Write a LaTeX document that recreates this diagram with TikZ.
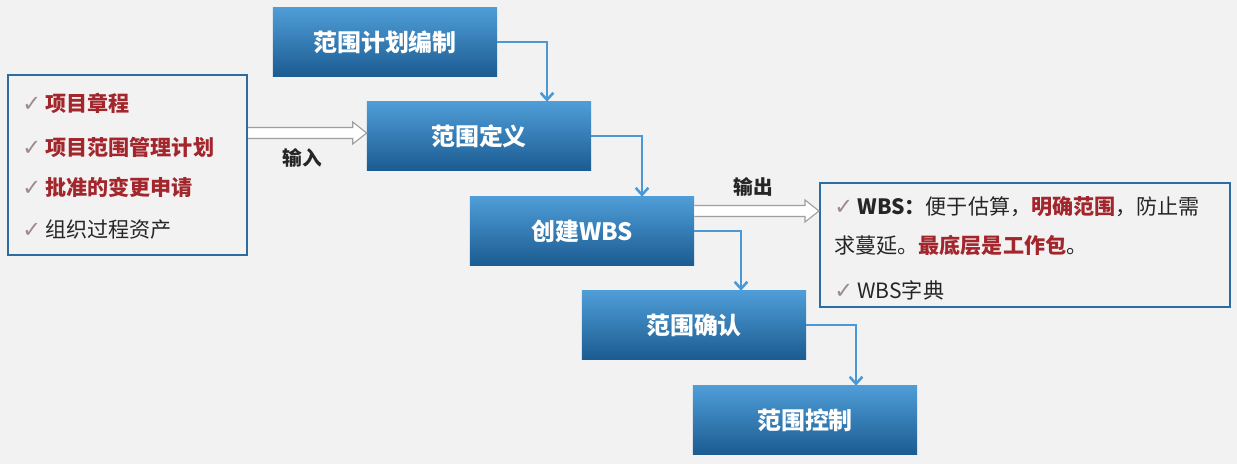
\documentclass[tikz,border=0pt]{standalone}
\usepackage{fontspec}
\setmainfont{Noto Sans CJK SC}
\newfontfamily\symfont{DejaVu Sans}
\usetikzlibrary{arrows.meta,positioning,calc}
\definecolor{boxtop}{HTML}{4F9DD7}
\definecolor{boxmid}{HTML}{2F7BB8}
\definecolor{boxbot}{HTML}{1B5C92}
\definecolor{linkblue}{HTML}{4A98D6}
\definecolor{frameblue}{HTML}{2B6CA3}
\definecolor{itemred}{HTML}{A3262C}
\definecolor{tickgray}{HTML}{9C8A90}
\definecolor{bggray}{HTML}{F2F2F2}
\definecolor{inkdark}{HTML}{262626}
\newcommand{\tick}{{\symfont\color{tickgray}\fontsize{16}{17}\selectfont ✓}\hspace{3pt}}
% hollow block arrow between two points at the same height
\newcommand{\hollowarrow}[2]{%
  \draw[flow] ($(#1)+(0,5.5)$) -- ($(#2)+(-14,5.5)$) -- ($(#2)+(-14,11)$) -- (#2)
    -- ($(#2)+(-14,-11)$) -- ($(#2)+(-14,-5.5)$) -- ($(#1)+(0,-5.5)$);}

\begin{document}
\begin{tikzpicture}[x=0.025cm, y=-0.025cm, >={Straight Barb[length=5pt,width=9pt]}]
  \tikzstyle{stage}=[draw=none, top color=boxtop, middle color=boxmid, bottom color=boxbot, minimum width=5.6cm, minimum height=1.7cm, inner sep=0pt, text=white, font=\fontsize{17}{19}\selectfont\bfseries]
  \tikzstyle{frame}=[draw=frameblue, line width=1.4pt, fill=bggray, inner sep=0pt]
  \tikzstyle{link}=[->, draw=linkblue, line width=1.8pt]
  \tikzstyle{flow}=[draw=gray!75, fill=white, line width=0.8pt, line join=miter]
  \tikzstyle{item}=[anchor=west, inner sep=0pt, text=inkdark, font=\fontsize{15}{17}\selectfont]
  \tikzstyle{tag}=[inner sep=0pt, text=inkdark, font=\fontsize{14}{16}\selectfont\bfseries]
  \fill[bggray] (0,0) rectangle (1237,464);
  \useasboundingbox (0,0) rectangle (1237,464);

  % process steps
  \node[stage] (plan) at (385,42) {范围计划编制};
  \node[stage] (define) at (479,136) {范围定义};
  \node[stage] (wbs) at (582,231) {创建WBS};
  \node[stage] (verify) at (694,325) {范围确认};
  \node[stage] (control) at (805,420) {范围控制};

  % inputs
  \node[frame, minimum width=5.975cm, minimum height=4.5cm] (inputs) at (127.5,165) {};
  \node[item, text=itemred, font=\fontsize{15}{17}\selectfont\bfseries] (in1) at (22,103) {\tick 项目章程};
  \node[item, text=itemred, font=\fontsize{15}{17}\selectfont\bfseries] (in2) at (22,147) {\tick 项目范围管理计划};
  \node[item, text=itemred, font=\fontsize{15}{17}\selectfont\bfseries] (in3) at (22,187) {\tick 批准的变更申请};
  \node[item] (in4) at (22,230) {\tick 组织过程资产};

  % outputs
  \node[frame, minimum width=10.25cm, minimum height=3.1cm] (outputs) at (1025,245) {};
  \node[item] (out1) at (834,207) {\tick \textbf{WBS：}便于估算，\textcolor{itemred}{\textbf{明确范围}}，防止需};
  \node[item] (out2) at (834,246) {求蔓延。\textcolor{itemred}{\textbf{最底层是工作包}}。};
  \node[item] (out3) at (834,290) {\tick WBS字典};

  \node[tag] (inlabel) at (302,158) {输入};
  \node[tag] (outlabel) at (753,187) {输出};

  % connectors
  \draw[link] (plan.east) -| ([xshift=1.7cm]define.north);
  \draw[link] (define.east) -| ([xshift=1.5cm]wbs.north);
  \draw[link] (wbs.east) -| ([xshift=1.175cm]verify.north);
  \draw[link] (verify.east) -| ([xshift=1.275cm]control.north);
  \coordinate (instart) at ([yshift=0.075cm]inputs.east |- define.west);
  \coordinate (inend) at ([yshift=0.075cm]define.west);
  \coordinate (outstart) at ([yshift=0.5cm]wbs.east);
  \coordinate (outend) at (outstart -| outputs.west);
  \hollowarrow{instart}{inend}
  \hollowarrow{outstart}{outend}
\end{tikzpicture}
\end{document}
